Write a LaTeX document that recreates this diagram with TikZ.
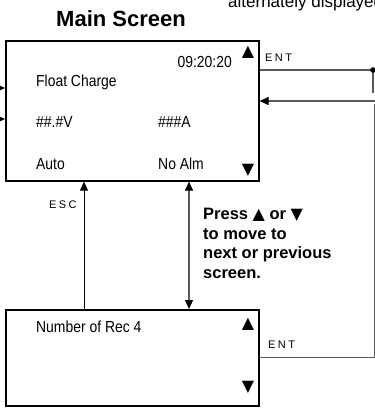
\documentclass[tikz,border=0pt]{standalone}
\usepackage{fontspec}
\setmainfont{Liberation Sans}
\newfontfamily\symfont{DejaVu Sans}
\newfontfamily\lcdfont[FakeStretch=0.87]{Liberation Sans}
\newfontfamily\keyfont[LetterSpace=22]{Liberation Sans}
\usetikzlibrary{arrows.meta}

\tikzset{ktip/.tip={Triangle[length=9pt, width=8pt, color=black]}}

\begin{document}
\begin{tikzpicture}[
  x=1pt, y=-1pt,
  screen/.style={rectangle, draw, line width=1.6pt, anchor=north west, inner sep=0pt},
  lcd/.style={font=\lcdfont\fontsize{16}{18}\selectfont, inner sep=0pt, anchor=base west},
  tri/.style={font=\symfont\fontsize{16}{16}\selectfont, inner sep=0pt},
  keylbl/.style={font=\keyfont\fontsize{11}{12}\selectfont, inner sep=0pt, anchor=base west},
  arr/.style={-{ktip}, line width=0.9pt},
  wire/.style={draw=black!65, line width=1.1pt},
]
  \useasboundingbox (0,0) rectangle (375,408);

  % screens
  \node[screen, minimum width=253pt, minimum height=140pt] (main) at (5,40) {};
  \node[screen, minimum width=253pt, minimum height=96pt] (rec) at (5,309) {};

  \node[font=\bfseries\fontsize{22}{24}\selectfont, anchor=base] (title) at (121,26) {Main Screen};
  \node[font=\fontsize{17}{18}\selectfont, anchor=base west, inner sep=0pt] (note) at (228,7.5) {alternately displayed};

  % main screen contents
  \node[lcd, anchor=base east] (clock) at (232,67) {09:20:20};
  \node[lcd] (state) at (36,86) {Float Charge};
  \node[lcd] (volt) at (36,127) {\#\#.\#V};
  \node[lcd] (amp) at (158,127) {\#\#\#A};
  \node[lcd] (mode) at (36,169) {Auto};
  \node[lcd] (alarm) at (158,169) {No Alm};
  \node[tri] (mainup) at (248,52.5) {▲};
  \node[tri] (maindn) at (248,170) {▼};

  % record screen contents
  \node[lcd] (count) at (36,332) {Number of Rec 4};
  \node[tri] (recup) at (248,324) {▲};
  \node[tri] (recdn) at (248,387.5) {▼};

  % keys
  \node[keylbl] (esc) at (49,208) {ESC};
  \node[keylbl] (enttop) at (265,61) {ENT};
  \node[keylbl] (entbot) at (268,348) {ENT};
  \node[font=\bfseries\fontsize{16.5}{19.7}\selectfont, align=left, anchor=north west, inner sep=0pt] (hint)
    at (203,208) {Press\ {\symfont\fontsize{16}{13}\selectfont▲}\ or {\symfont\fontsize{16}{13}\selectfont▼}\\to move to\\next or previous\\screen.};

  % connectors
  \coordinate (in1) at (0,88);
  \coordinate (in2) at (0,119);
  \draw[arr] (in1) -- (main.west |- in1);
  \draw[arr] (in2) -- (main.west |- in2);

  \draw[arr] ([xshift=79pt]rec.north west) -- ([xshift=79pt]main.south west);
  \draw[wire, {ktip}-{ktip}] ([xshift=184pt]rec.north west) -- ([xshift=184pt]main.south west);

  \coordinate (entdot) at (373,70);
  \draw[wire] (main.east |- entdot) -- (entdot) -- ++(0,23);
  \fill (entdot) circle (2.8pt);

  \coordinate (retin) at (375,101);
  \coordinate (retcorner) at (374,104);
  \coordinate (entback) at (374,357);
  \draw[wire, -{ktip}] (retin) -- (main.east |- retin);
  \draw[wire, line width=0.9pt] (rec.east |- entback) -- (entback) -- (retcorner);
\end{tikzpicture}
\end{document}
